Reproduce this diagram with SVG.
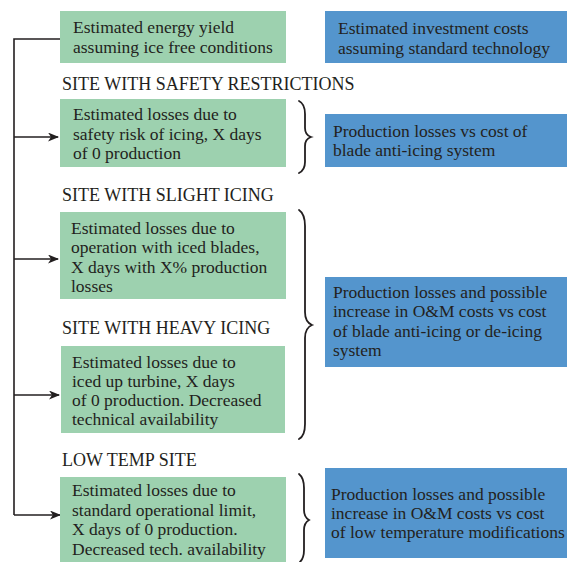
<svg xmlns="http://www.w3.org/2000/svg" width="574" height="562" viewBox="0 0 574 562">
<style>
.g{fill:#9dd1af}
.b{fill:#5495cd}
text{font-family:"Liberation Serif","Times New Roman",serif;font-size:17.5px;fill:#231f20}
.h{font-size:18px}
.ln{stroke:#231f20;stroke-width:1.6;fill:none}
.br{stroke:#231f20;stroke-width:1.8;fill:none;stroke-linecap:round}
</style>
<defs>
<marker id="ah" markerWidth="11" markerHeight="9" refX="10" refY="4.5" orient="auto" markerUnits="userSpaceOnUse">
<path d="M0,0 L11,4.5 L0,9 L3,4.5 Z" fill="#231f20"/>
</marker>
</defs>
<rect width="574" height="562" fill="#fff"/>

<g id="connectors">
<path class="ln" d="M62,39 H14 V515"/>
<path class="ln" d="M14,137 H58" marker-end="url(#ah)"/>
<path class="ln" d="M14,259 H58" marker-end="url(#ah)"/>
<path class="ln" d="M14,395 H59" marker-end="url(#ah)"/>
<path class="ln" d="M14,515 H60" marker-end="url(#ah)"/>
</g>

<g id="braces">
<path class="br" d="M299,101 Q305,104 305,114 V128 Q305,135 311,137 Q305,139 305,146 V162 Q305,170 299,173"/>
<path class="br" d="M299,210 Q305,214 305,226 V312 Q305,322 312,325 Q305,328 305,338 V424 Q305,436 299,439"/>
<path class="br" d="M299,474 Q304,478 304,488 V510 Q304,517 309,520 Q304,523 304,530 V550 Q304,558 300,562"/>
</g>

<g id="g1"><rect class="g" x="60" y="11" width="226" height="52"/>
<text x="73" y="33">Estimated energy yield</text>
<text x="73" y="53">assuming ice free conditions</text></g>

<g id="b1"><rect class="b" x="325" y="11" width="242" height="52"/>
<text x="338" y="34">Estimated investment costs</text>
<text x="338" y="54">assuming standard technology</text></g>

<text id="h1" class="h" x="62" y="90">SITE WITH SAFETY RESTRICTIONS</text>

<g id="g2"><rect class="g" x="60" y="99" width="226" height="68"/>
<text x="73" y="120">Estimated losses due to</text>
<text x="73" y="140">safety risk of icing, X days</text>
<text x="73" y="159">of 0 production</text></g>

<g id="b2"><rect class="b" x="325" y="114" width="242" height="53"/>
<text x="333" y="137">Production losses vs cost of</text>
<text x="333" y="156">blade anti-icing system</text></g>

<text id="h2" class="h" x="62" y="201">SITE WITH SLIGHT ICING</text>

<g id="g3"><rect class="g" x="60" y="212" width="226" height="87"/>
<text x="71" y="234">Estimated losses due to</text>
<text x="71" y="253">operation with iced blades,</text>
<text x="71" y="273">X days with X% production</text>
<text x="71" y="292">losses</text></g>

<text id="h3" class="h" x="62" y="334">SITE WITH HEAVY ICING</text>

<g id="g4"><rect class="g" x="61" y="346" width="224" height="87"/>
<text x="72" y="368">Estimated losses due to</text>
<text x="72" y="387">iced up turbine, X days</text>
<text x="72" y="406">of 0 production. Decreased</text>
<text x="72" y="425">technical availability</text></g>

<g id="b3"><rect class="b" x="325" y="277" width="242" height="90"/>
<text x="333" y="298">Production losses and possible</text>
<text x="333" y="317">increase in O&amp;M costs vs cost</text>
<text x="333" y="337">of blade anti-icing or de-icing</text>
<text x="333" y="356">system</text></g>

<text id="h4" class="h" x="62" y="466">LOW TEMP SITE</text>

<g id="g5"><rect class="g" x="60" y="477" width="226" height="85"/>
<text x="72" y="496">Estimated losses due to</text>
<text x="72" y="516">standard operational limit,</text>
<text x="72" y="535">X days of 0 production.</text>
<text x="72" y="555">Decreased tech. availability</text></g>

<g id="b4"><rect class="b" x="325" y="468" width="242" height="90"/>
<text x="331" y="500">Production losses and possible</text>
<text x="331" y="519">increase in O&amp;M costs vs cost</text>
<text x="331" y="538">of low temperature modifications</text></g>
</svg>
